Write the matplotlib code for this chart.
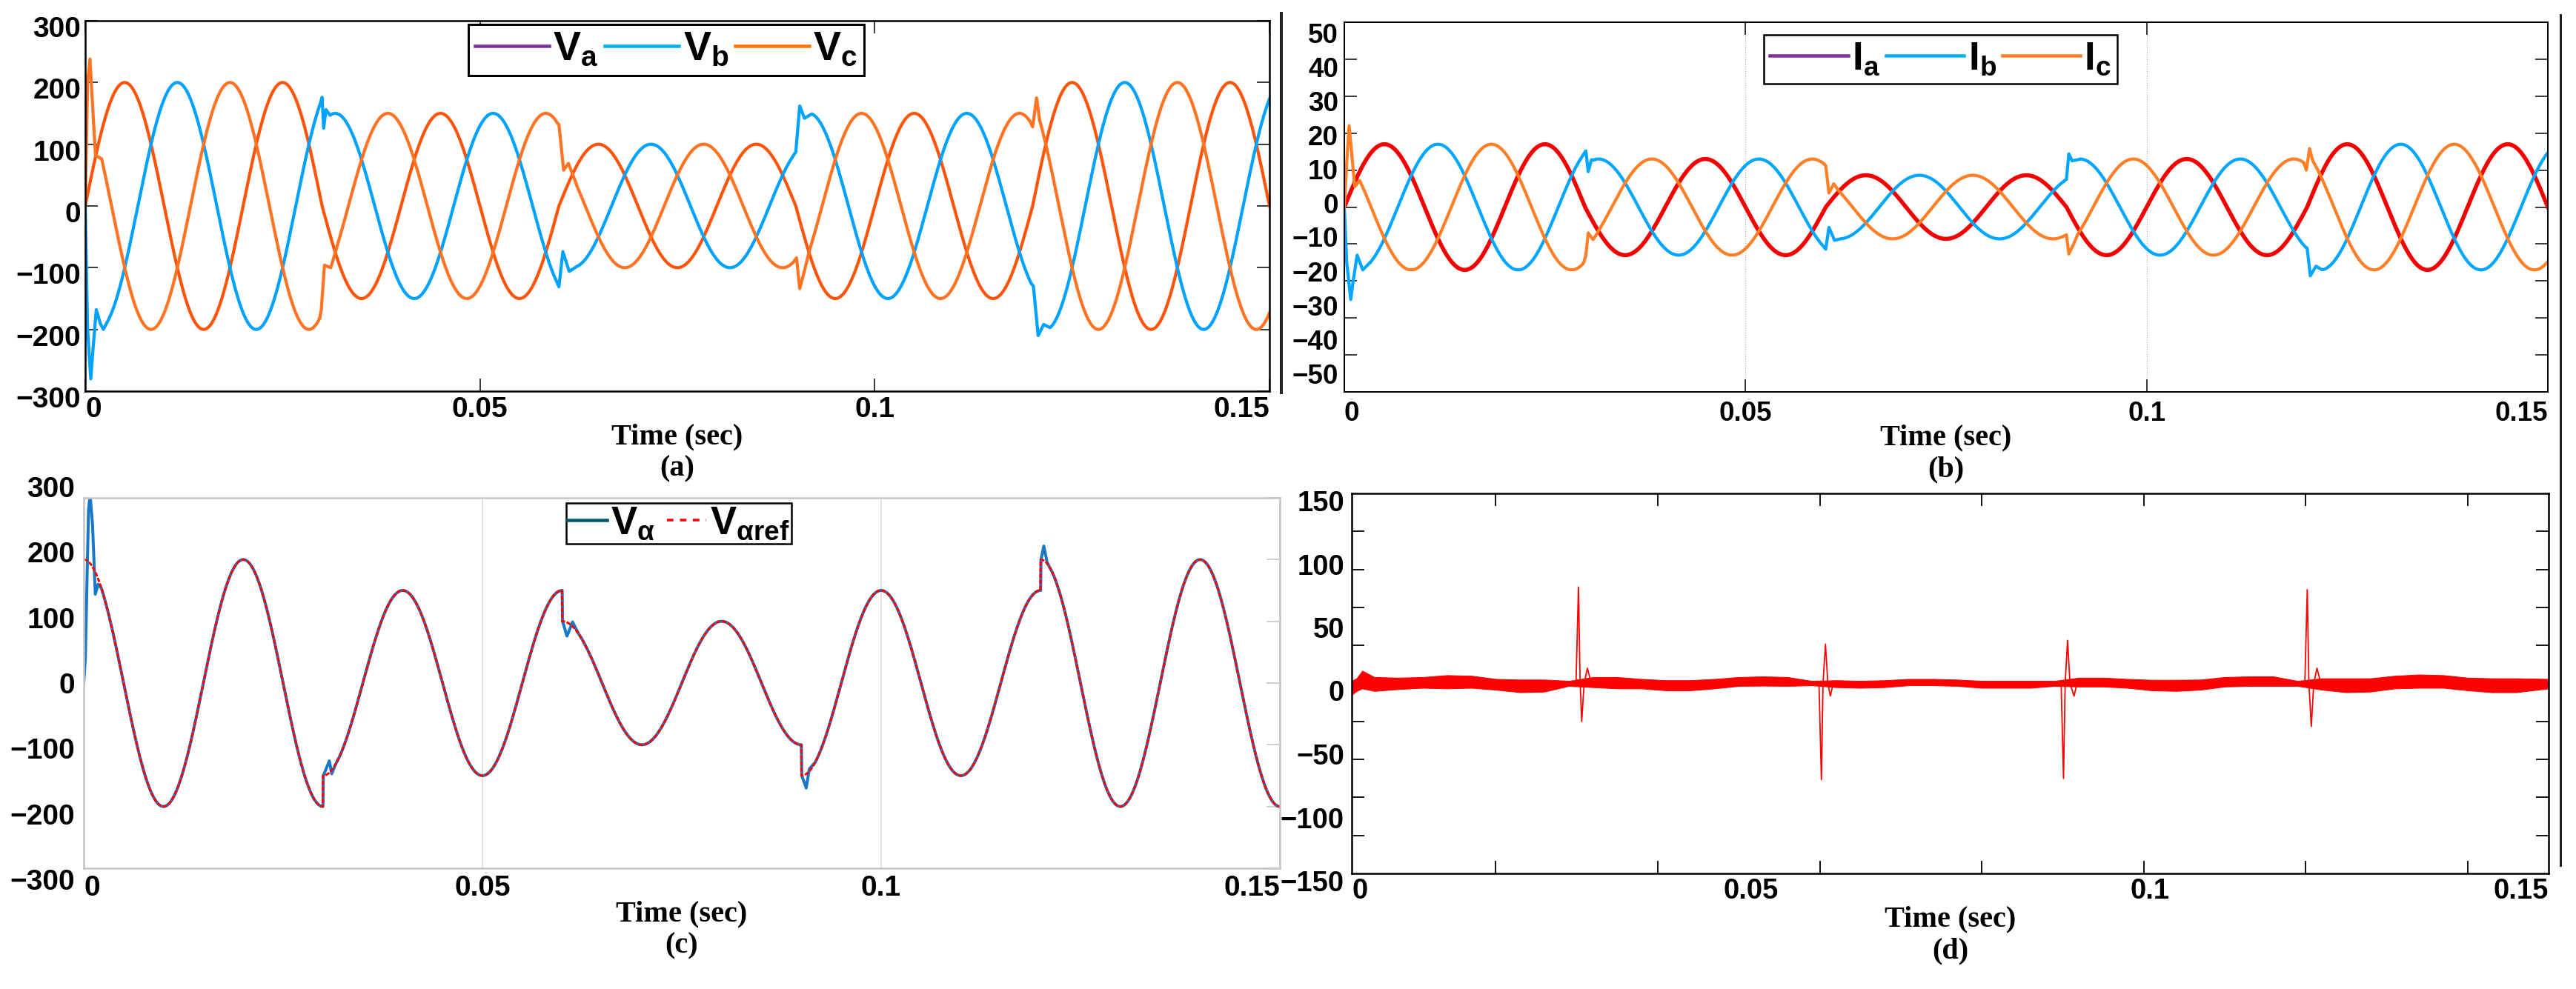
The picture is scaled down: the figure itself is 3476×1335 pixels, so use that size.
import numpy as np
import matplotlib
matplotlib.use('Agg')
import matplotlib.pyplot as plt
from matplotlib.lines import Line2D
from matplotlib.transforms import ScaledTranslation

plt.rcParams['font.family'] = 'Liberation Sans'
plt.rcParams['font.weight'] = 'bold'
plt.rcParams['mathtext.fontset'] = 'custom'
plt.rcParams['mathtext.rm'] = 'Liberation Sans:bold'
plt.rcParams['mathtext.it'] = 'Liberation Sans:bold'
plt.rcParams['mathtext.bf'] = 'Liberation Sans:bold'

DPI = 100
W, H = 3476, 1335

# ---- values ----
t_switch = [0.0, 0.03, 0.06, 0.09, 0.12, 0.15]
v_amp = [200, 150, 100, 150, 200]       # phase voltage peak per interval
i_amp = [17, 13, 8.6, 13, 17]           # phase current peak per interval
f_grid = 50                             # Hz (period 0.02 s)
phase_abc = [0, -120, 120]              # a, b, c (deg)
phase_alpha = 90                        # V_alpha is a cosine

# transients (t, value) around the switching instants
vb_tr = [
    [(0.0, 0), (0.0003, -200), (0.0007, -280), (0.0010, -230), (0.0014, -168), (0.0019, -190), (0.0023, -200), (0.0030, -183)],
    [(0.0298, 167), (0.0300, 176), (0.0302, 126), (0.0305, 156), (0.0310, 147)],
    [(0.0598, -125), (0.0600, -131), (0.0605, -74), (0.0613, -106), (0.0624, -97)],
    [(0.0897, 82), (0.0900, 87), (0.0905, 162), (0.0911, 142), (0.0920, 149)],
    [(0.1198, -125), (0.1201, -130), (0.1207, -210), (0.1214, -192), (0.1222, -197)],
]
vc_tr = [
    [(0.0, 0), (0.0003, 200), (0.0006, 238), (0.0009, 170), (0.0013, 82), (0.0017, 79), (0.0021, 76)],
    [(0.0297, -182), (0.0299, -168), (0.0303, -96), (0.0311, -100), (0.0318, -70)],
    [(0.0598, 134), (0.0600, 132), (0.0606, 58), (0.0612, 69), (0.0622, 36)],
    [(0.0897, -91), (0.0901, -84), (0.0905, -134), (0.0911, -105), (0.0916, -79)],
    [(0.1198, 134), (0.1200, 128), (0.1205, 175), (0.1209, 138)],
]
ib_tr = [
    [(0.0, 0), (0.0003, -15), (0.0008, -25), (0.0011, -20), (0.0016, -13), (0.0023, -17), (0.0032, -15)],
    [(0.0298, 14.2), (0.0301, 15.2), (0.0304, 9.6), (0.0308, 12.8), (0.0312, 12.7)],
    [(0.0598, -10.8), (0.0600, -11.4), (0.0604, -5.5), (0.0611, -9.0), (0.0618, -8.6)],
    [(0.0897, 7.0), (0.0900, 7.5), (0.0903, 14.4), (0.0907, 12.5), (0.0918, 13.0)],
    [(0.1198, -10.8), (0.1200, -11.1), (0.1204, -18.6), (0.1211, -16.0), (0.1219, -17.0)],
]
ic_tr = [
    [(0.0, 0), (0.0003, 12), (0.0006, 22), (0.0009, 15), (0.0013, 5.5), (0.0019, 7.2), (0.0024, 4.9)],
    [(0.0298, -15.2), (0.0301, -13.1), (0.0304, -7.0), (0.0310, -8.8), (0.0315, -7.2)],
    [(0.0598, 11.6), (0.0600, 11.2), (0.0604, 3.8), (0.0610, 6.3), (0.0615, 4.7)],
    [(0.0897, -7.8), (0.0900, -7.5), (0.0903, -12.7), (0.0909, -10.0), (0.0914, -7.4)],
    [(0.1196, 11.8), (0.1199, 10.0), (0.1203, 15.8), (0.1207, 12.5)],
]
valpha_tr = [
    [(0.0, 0), (0.0002, 40), (0.0004, 160), (0.0006, 280), (0.0008, 305), (0.0011, 257), (0.00145, 144), (0.0018, 160), (0.0022, 154)],
    [(0.0300, -200), (0.03005, -150), (0.0308, -126), (0.0311, -147), (0.0315, -134), (0.0320, -121)],
    [(0.0600, 150), (0.06005, 100), (0.0606, 76), (0.0613, 99), (0.0620, 81)],
    [(0.0900, -100), (0.09005, -150), (0.0906, -170), (0.0910, -139), (0.0917, -129)],
    [(0.1200, 150), (0.12005, 200), (0.1204, 222), (0.1208, 196), (0.1212, 186)],
]

# (d) error: ripple envelope + spikes
err_t = [0.0022, 0.0028, 0.0035, 0.005, 0.008, 0.011, 0.014, 0.017, 0.020, 0.023, 0.026, 0.029,
         0.032, 0.035, 0.038, 0.041, 0.044, 0.047, 0.050, 0.053, 0.056, 0.059,
         0.062, 0.065, 0.068, 0.071, 0.074, 0.077, 0.080, 0.083, 0.086, 0.089,
         0.092, 0.095, 0.098, 0.101, 0.104, 0.107, 0.110, 0.113, 0.116, 0.119,
         0.122, 0.125, 0.128, 0.131, 0.134, 0.137, 0.140, 0.143, 0.146, 0.150]
err_up = [2, 4, 10, 5, 4.5, 5, 6.5, 6, 3.5, 3, 3, 2,
          5, 5, 3.5, 2.5, 2.5, 3.5, 5, 5.5, 5, 2,
          2.5, 2, 2.5, 3.5, 3.5, 3, 2, 2, 2, 2,
          4.5, 4.5, 3.5, 2.8, 2.8, 3, 5, 5.5, 5.5, 2,
          4, 4, 4, 6, 7, 6.5, 4.5, 4, 4, 3.5]
err_lo = [-9, -6, -4, -6, -4.5, -3.5, -4, -3.5, -5, -7, -6.5, -2,
          -3, -4, -4, -5.5, -5.5, -4, -2, -1.8, -2, -1.5,
          -3, -3.5, -3, -1.5, -1.5, -2, -3.5, -3.5, -3.5, -2,
          -2.5, -2.5, -3.5, -5.5, -6, -5, -2.5, -2, -2, -2,
          -5, -7, -6.5, -4, -3.5, -3.5, -5.5, -7, -7, -4]
err_spikes = [
    [(0.0299, 1), (0.0302, 76), (0.0304, 2), (0.0306, -30), (0.0309, 0), (0.0313, 12), (0.0317, 2)],
    [(0.0599, 0), (0.0602, -76), (0.0604, 0), (0.0607, 31), (0.0610, 0), (0.0613, -10), (0.0617, 1)],
    [(0.0898, 0), (0.0901, -75), (0.0903, 0), (0.0906, 34), (0.0909, 0), (0.0914, -10), (0.0918, 1)],
    [(0.1199, 0), (0.1202, 74), (0.1204, 0), (0.1207, -34), (0.1210, 0), (0.1214, 12), (0.1218, 2)],
]

x_labels = ['0', '0.05', '0.1', '0.15']


t = np.linspace(0, 0.15, 6001)


def wave(amps, phase, trans):
    idx = np.searchsorted(t_switch[1:-1], t, side='right')
    y = np.array(amps, dtype=float)[idx] * np.sin(2 * np.pi * f_grid * t + np.radians(phase))
    tt, yy = t.copy(), y
    for pts in trans:
        p = np.array(pts, dtype=float)
        keep = (tt < p[0, 0]) | (tt > p[-1, 0])
        tt = np.concatenate([tt[keep], p[:, 0]])
        yy = np.concatenate([yy[keep], p[:, 1]])
        o = np.argsort(tt, kind='stable')
        tt, yy = tt[o], yy[o]
    return tt, yy


def box(l, r, top, bot):
    return [l / W, 1 - bot / H, (r - l) / W, (bot - top) / H]


def nudge(labels, fn):
    for lb in labels:
        try:
            val = float(lb.get_text().replace('\u2212', '-'))
        except ValueError:
            val = 0
        dy = fn(val)
        lb.set_transform(lb.get_transform() + ScaledTranslation(0, -dy / DPI, fig.dpi_scale_trans))


def pt(px):
    return px * 72.0 / DPI


fig = plt.figure(figsize=(W / DPI, H / DPI), dpi=DPI)

axA = fig.add_axes(box(115, 1713, 28, 528))
axB = fig.add_axes(box(1814, 3438, 30, 529))
axC = fig.add_axes(box(113, 1727, 672, 1172))
axD = fig.add_axes(box(1824, 3439, 666, 1179))

# ---------- (a) ----------
for amp_ph, col, tr in zip(phase_abc, ['#FF540A', '#00A2FF', '#FF7322'], [[], vb_tr, vc_tr]):
    tx, vy = wave(v_amp, amp_ph, tr)
    axA.plot(tx, vy, color=col, lw=pt(4.2))
axA.set_xlim(0, 0.15)
axA.set_ylim(-300, 300)
axA.set_yticks([-300, -200, -100, 0, 100, 200, 300])
axA.set_xticks([0, 0.05, 0.1, 0.15], x_labels)
axA.tick_params(direction='in', length=pt(17), width=pt(1.5), top=True, right=True,
                labelsize=28, pad=pt(7))
axA.tick_params(axis='y', pad=pt(6))
for s in axA.spines.values():
    s.set_linewidth(pt(2.5))
hA = [Line2D([], [], color=c, lw=pt(4.5)) for c in ['#7B2FA0', '#00B0F0', '#FF7700']]
lg = axA.legend(hA, [r'$\mathrm{V}_{\mathrm{a}}$', r'$\mathrm{V}_{\mathrm{b}}$', r'$\mathrm{V}_{\mathrm{c}}$'],
                loc='upper center', bbox_to_anchor=(0.4906, 0.99), ncol=3, fontsize=40,
                handlelength=1.8, handletextpad=0.1, columnspacing=0.15, borderpad=0.15,
                borderaxespad=0, fancybox=False, edgecolor='black', framealpha=1)
lg.get_frame().set_linewidth(pt(3))

# ---------- (b) ----------
for amp_ph, col, tr, lw in zip(phase_abc, ['#F50000', '#00A6FF', '#FF7F27'], [[], ib_tr, ic_tr], [5.5, 4.2, 4.2]):
    tx, iy = wave(i_amp, amp_ph, tr)
    axB.plot(tx, iy, color=col, lw=pt(lw))
axB.set_xlim(0, 0.15)
axB.set_ylim(-50, 50)
axB.set_yticks(np.arange(-50, 51, 10))
axB.set_xticks([0, 0.05, 0.1, 0.15], x_labels)
axB.grid(axis='x', color='#b0b0b0', ls=':', lw=pt(1.2))
axB.tick_params(direction='in', length=pt(17), width=pt(1.5), top=True, right=True,
                labelsize=26.5, pad=pt(12))
axB.tick_params(axis='y', pad=pt(8))
for s in axB.spines.values():
    s.set_linewidth(pt(2))
hB = [Line2D([], [], color=c, lw=pt(4.5)) for c in ['#7B2FA0', '#00B0F0', '#FF7F27']]
lg = axB.legend(hB, [r'$\mathrm{I}_{\mathrm{a}}$', r'$\mathrm{I}_{\mathrm{b}}$', r'$\mathrm{I}_{\mathrm{c}}$'],
                loc='upper center', bbox_to_anchor=(0.4954, 0.966), ncol=3, fontsize=38,
                handlelength=2.0, handletextpad=0.1, columnspacing=0.15, borderpad=0.15,
                borderaxespad=0, fancybox=False, edgecolor='black', framealpha=1)
lg.get_frame().set_linewidth(pt(2.5))

# ---------- (c) ----------
tx, va = wave(v_amp, phase_alpha, valpha_tr)
axC.plot(tx, va, color='#1A78C8', lw=pt(4))
tx, vref = wave(v_amp, phase_alpha, [])
axC.plot(tx, vref, color='#FF0000', lw=pt(3), ls=(0, (2, 0.7)))
axC.set_xlim(0, 0.15)
axC.set_ylim(-300, 300)
axC.set_yticks([-300, -200, -100, 0, 100, 200, 300])
axC.set_xticks([0, 0.05, 0.1, 0.15], x_labels)
axC.grid(axis='x', color='#d8d8d8', lw=pt(1.5))
axC.tick_params(axis='x', length=0, labelsize=28, pad=pt(9))
axC.tick_params(axis='y', direction='in', left=False, right=True, length=pt(18), width=pt(1.5),
                color='#c0c0c0', labelsize=28, pad=pt(12))
for s in axC.spines.values():
    s.set_linewidth(pt(2.5))
    s.set_color('#c4c4c4')
hC = [Line2D([], [], color='#005A6E', lw=pt(4.5)),
      Line2D([], [], color='#FF0000', lw=pt(3.5), ls=(0, (2.5, 2.5)))]
lg = axC.legend(hC, [r'$\mathrm{V}_{\alpha}$', r'$\mathrm{V}_{\alpha\mathrm{ref}}$'],
                loc='upper center', bbox_to_anchor=(0.4975, 0.986), ncol=2, fontsize=38,
                handlelength=1.0, handletextpad=0.1, columnspacing=0.3, borderpad=0.05,
                borderaxespad=0, fancybox=False, edgecolor='black', framealpha=1)
lg.get_frame().set_linewidth(pt(2.5))

# ---------- (d) ----------
d_x0 = 0.0022
axD.fill_between(err_t, err_lo, err_up, color='#FF0000', lw=pt(1))
for sp in err_spikes:
    p = np.array(sp)
    axD.plot(p[:, 0], p[:, 1], color='#FF0000', lw=pt(1.8))
axD.set_xlim(d_x0, 0.15)
axD.set_ylim(-150, 150)
axD.set_yticks([-150, -100, -50, 0, 50, 100, 150])
axD.set_yticks(np.arange(-120, 121, 30), minor=True)
axD.set_xticks([])
axD.set_xticks(np.arange(0.02, 0.141, 0.02), minor=True)
axD.tick_params(axis='y', which='major', length=0, labelsize=27.5, pad=pt(10))
axD.tick_params(which='minor', direction='in', length=pt(17), width=pt(1.8),
                top=True, bottom=True, left=True, right=True)
for s in axD.spines.values():
    s.set_linewidth(pt(2.5))
secD = axD.secondary_xaxis('bottom', functions=(lambda x: (x - d_x0) / (0.15 - d_x0) * 0.15,
                                                lambda u: u * (0.15 - d_x0) / 0.15 + d_x0))
secD.set_xticks([0, 0.05, 0.1, 0.15], x_labels)
secD.tick_params(length=0, labelsize=27.5, pad=pt(6))
secD.spines['bottom'].set_visible(False)

# tick label alignment tweaks
for ax in [axA, axB, axC, secD]:
    lbs = ax.get_xticklabels()
    lbs[0].set_ha('left')
    lbs[-1].set_ha('right')
nudge(axA.get_yticklabels(), lambda v: 8)
nudge(axB.get_yticklabels(), lambda v: 14 - (50 - v) * 0.39)
nudge(axC.get_yticklabels(), lambda v: -v / 300 * 15)
nudge(axD.get_yticklabels(), lambda v: 10)

# axis titles and panel captions
for ax, cap in [(axA, '(a)'), (axB, '(b)'), (axC, '(c)'), (axD, '(d)')]:
    pos = ax.get_position()
    xc = (pos.x0 + pos.x1) / 2
    ybot = pos.y0
    fig.text(xc, ybot - 62 / H, 'Time (sec)', ha='center', va='center',
             family='Liberation Serif', weight='bold', fontsize=29)
    fig.text(xc, ybot - 105 / H, cap, ha='center', va='center',
             family='Liberation Serif', weight='bold', fontsize=29)

# separator rules between the panels
fig.add_artist(Line2D([1729 / W, 1729 / W], [1 - 18 / H, 1 - 530 / H], color='#222222', lw=pt(4)))
fig.add_artist(Line2D([3455 / W, 3455 / W], [1 - 20 / H, 1 - 1168 / H], color='#222222', lw=pt(3)))

fig.savefig('out.png', dpi=DPI)
